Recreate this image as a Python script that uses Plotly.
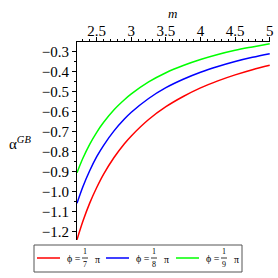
import plotly.graph_objects as go

m_values = [2.215, 2.3, 2.4, 2.5, 2.6, 2.75, 2.9, 3.0, 3.25, 3.5, 3.75, 4.0, 4.25, 4.5, 4.75, 5.0]
alpha_phi7 = [-1.240, -1.148, -1.056, -0.979, -0.912, -0.829, -0.760, -0.721, -0.639, -0.575, -0.524, -0.481, -0.446, -0.416, -0.390, -0.368]
alpha_phi8 = [-1.058, -0.975, -0.894, -0.825, -0.768, -0.696, -0.637, -0.603, -0.534, -0.480, -0.438, -0.403, -0.374, -0.349, -0.328, -0.310]
alpha_phi9 = [-0.905, -0.833, -0.762, -0.703, -0.653, -0.590, -0.540, -0.511, -0.451, -0.405, -0.369, -0.339, -0.314, -0.293, -0.276, -0.260]

phi_denominators = ["7", "8", "9"]
series_colors = ["#ff0000", "#0000ff", "#00ff00"]
x_tick_vals = [2.5, 3, 3.5, 4, 4.5, 5]
x_tick_text = ["2.5", "3", "3.5", "4", "4.5", "5"]
y_tick_vals = [-0.3, -0.4, -0.5, -0.6, -0.7, -0.8, -0.9, -1.0, -1.1, -1.2]
y_tick_text = ["−0.3", "−0.4", "−0.5", "−0.6", "−0.7", "−0.8", "−0.9", "−1.0", "−1.1", "−1.2"]

W, H = 278, 278
L, R, T, B = 77, 8, 42, 38
PW, PH = W - L - R, H - T - B


def px(x):
    return (x - L) / PW


def py(y):
    return (H - B - y) / PH


fig = go.Figure()
for ys, den, col in zip([alpha_phi7, alpha_phi8, alpha_phi9], phi_denominators, series_colors):
    fig.add_trace(go.Scatter(x=m_values, y=ys, mode="lines", name="ϕ = 1/" + den + " π",
                             showlegend=False,
                             line=dict(color=col, width=1.5, shape="spline", smoothing=1.0)))

font_serif = "Liberation Serif, Times New Roman, serif"
fig.update_layout(
    width=W, height=H,
    margin=dict(l=L, r=R, t=T, b=B),
    paper_bgcolor="white", plot_bgcolor="white",
    font=dict(family=font_serif, size=14, color="black"),
    showlegend=False,
    xaxis=dict(range=[2.215, 5.004], side="top", showline=True, linecolor="black", linewidth=1,
               showgrid=False, zeroline=False, ticks="outside", ticklen=4, tickcolor="black",
               tickvals=x_tick_vals, ticktext=x_tick_text, tickfont=dict(size=15),
               ticklabeloverflow="allow", automargin=False, ticklabelstandoff=-5,
               minor=dict(dtick=0.1, tick0=2.0, ticks="outside", ticklen=2, tickcolor="black", showgrid=False)),
    yaxis=dict(range=[-1.2415, -0.2515], showline=True, linecolor="black", linewidth=1,
               showgrid=False, zeroline=False, ticks="outside", ticklen=4, tickcolor="black",
               tickvals=y_tick_vals, ticktext=y_tick_text, tickfont=dict(size=15), automargin=False,
               minor=dict(dtick=0.05, tick0=0, ticks="outside", ticklen=2, tickcolor="black", showgrid=False)),
)
fig.add_annotation(text="<i>m</i>", xref="paper", yref="paper", x=px(172), y=py(14),
                   xanchor="center", yanchor="middle", showarrow=False,
                   font=dict(size=13, family=font_serif))
fig.add_annotation(text="α<sup><i>GB</i></sup>", xref="paper", yref="paper", x=px(7), y=py(143),
                   xanchor="left", yanchor="middle", showarrow=False,
                   font=dict(size=15, family=font_serif))

# custom legend box
fig.add_shape(type="rect", xref="paper", yref="paper", x0=px(34), x1=px(242), y0=py(245), y1=py(272),
              line=dict(color="#555555", width=1), fillcolor="white", layer="above")
entry_starts = [37, 106, 176]
for x0, den, col in zip(entry_starts, phi_denominators, series_colors):
    fig.add_shape(type="line", xref="paper", yref="paper", x0=px(x0), x1=px(x0 + 23),
                  y0=py(258), y1=py(258), line=dict(color=col, width=1.5), layer="above")
    fig.add_annotation(text="ϕ =", xref="paper", yref="paper", x=px(x0 + 28), y=py(258.5),
                       xanchor="left", yanchor="middle", showarrow=False,
                       font=dict(size=10, family=font_serif))
    fig.add_annotation(text="1", xref="paper", yref="paper", x=px(x0 + 48), y=py(251.5),
                       xanchor="center", yanchor="middle", showarrow=False,
                       font=dict(size=8, family=font_serif))
    fig.add_shape(type="line", xref="paper", yref="paper", x0=px(x0 + 45), x1=px(x0 + 51),
                  y0=py(258), y1=py(258), line=dict(color="black", width=0.8), layer="above")
    fig.add_annotation(text=den, xref="paper", yref="paper", x=px(x0 + 48), y=py(264.5),
                       xanchor="center", yanchor="middle", showarrow=False,
                       font=dict(size=8, family=font_serif))
    fig.add_annotation(text="π", xref="paper", yref="paper", x=px(x0 + 56), y=py(259),
                       xanchor="left", yanchor="middle", showarrow=False,
                       font=dict(size=10, family=font_serif))
fig.write_html("out.html", config={"displayModeBar": False},
               post_script="document.body.style.margin='0px';")
